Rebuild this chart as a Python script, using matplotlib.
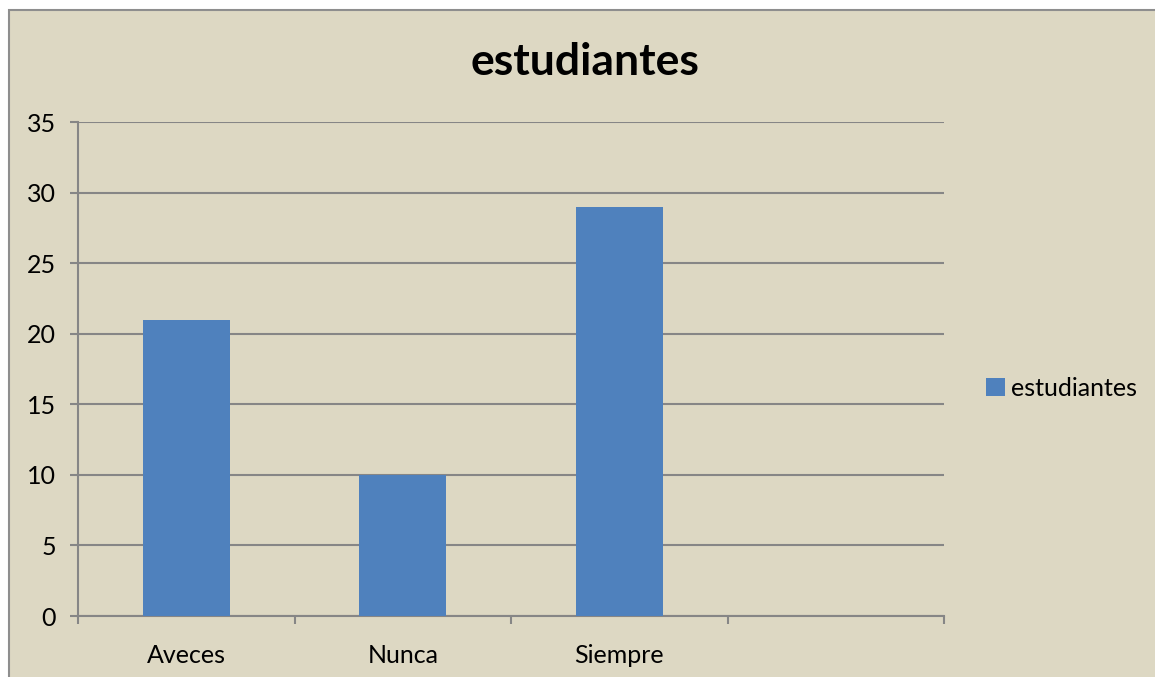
import matplotlib
matplotlib.use("Agg")
import matplotlib.pyplot as plt
from matplotlib.patches import Rectangle

categories = ["Aveces", "Nunca", "Siempre", ""]
values = [21, 10, 29]
series_name = "estudiantes"
yticks = [0, 5, 10, 15, 20, 25, 30, 35]

bg = "#DDD8C3"
bar_color = "#4F81BD"
grid_color = "#868686"

plt.rcParams['font.family'] = ['Lato', 'DejaVu Sans']

fig = plt.figure(figsize=(11.55, 6.77), dpi=100)
fig.patch.set_facecolor("white")
W, H = 1155, 677
fig.patches.append(Rectangle((9 / W, -0.02), 1.0, (H - 10) / H + 0.02,
                             transform=fig.transFigure, facecolor=bg,
                             edgecolor="#8E8E8E", linewidth=1.5, zorder=-10))

ax = fig.add_axes([78 / W, 61 / H, (944 - 78) / W, (616 - 122) / H])
ax.set_facecolor("none")

xpos = list(range(len(categories)))
ax.bar(xpos[:len(values)], values, width=0.4, color=bar_color, zorder=3, label=series_name)

ax.set_xlim(-0.5, len(categories) - 0.5)
ax.set_ylim(0, 35)
ax.set_yticks(yticks)
ax.set_yticklabels([str(v) for v in yticks], fontsize=18)
ax.yaxis.grid(True, color=grid_color, linewidth=1.5, zorder=0)
ax.tick_params(axis='y', length=6, width=1.5, color=grid_color, pad=10)

ax.set_xticks([x - 0.5 for x in range(len(categories) + 1)], minor=True)
ax.set_xticks(xpos)
ax.set_xticklabels(categories, fontsize=18)
ax.tick_params(axis='x', which='major', length=0, pad=20)
ax.tick_params(axis='x', which='minor', length=6, width=1.5, color=grid_color)

for s in ["top", "right"]:
    ax.spines[s].set_visible(False)
for s in ["left", "bottom"]:
    ax.spines[s].set_color(grid_color)
    ax.spines[s].set_linewidth(1.5)

fig.text(585 / W, 1 - 62 / H, "estudiantes", ha="center", va="center",
         fontsize=32, fontweight="bold", color="black")

leg = fig.legend(loc="center left", bbox_to_anchor=(986 / W, 1 - 388 / H),
                 frameon=False, fontsize=18, handlelength=0.75, handleheight=0.75,
                 handletextpad=0.25, borderpad=0, borderaxespad=0)

fig.savefig("out.png", dpi=100, facecolor=fig.get_facecolor())
